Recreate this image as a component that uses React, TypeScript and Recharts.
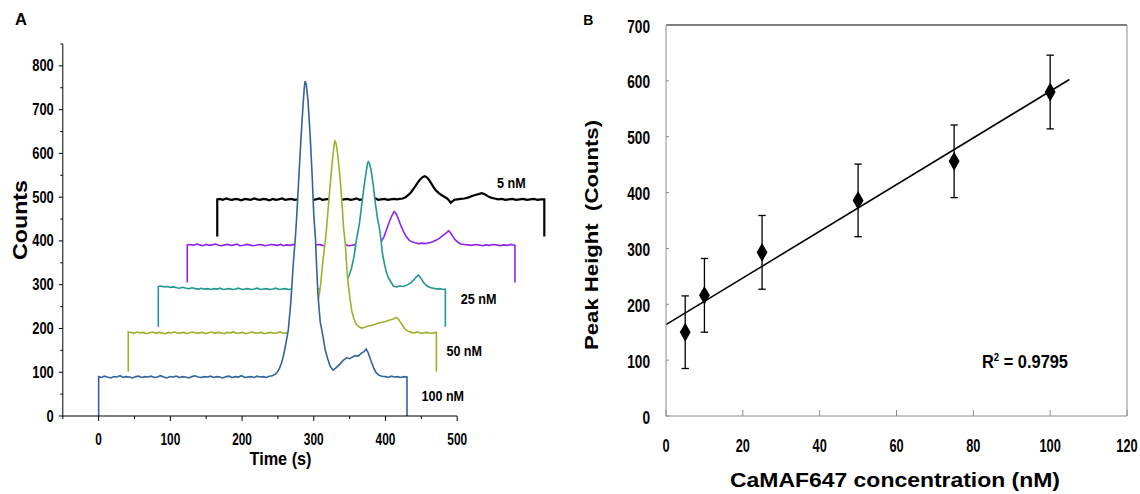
import React from 'react';
import {
  ComposedChart,
  ScatterChart,
  Area,
  Scatter,
  XAxis,
  YAxis,
  ZAxis,
  ReferenceLine,
  ErrorBar,
} from 'recharts';

const FONT = "'Liberation Sans', Arial, Helvetica, sans-serif";

// ---------------- Panel A: electropherograms (waterfall) ----------------
// [time (s), counts] as drawn on the plot
const TRACE_100NM: [number, number][] = [
  [0, 0], [0, 90], [4, 88], [8, 91], [12, 89], [17, 87], [21, 90], [25, 89], [30, 92], [34, 88], [38, 90],
  [43, 89], [47, 87], [52, 90], [56, 91], [60, 88], [65, 90], [69, 89], [73, 91], [78, 88], [82, 89],
  [86, 92], [91, 89], [95, 87], [100, 90], [104, 89], [108, 91], [113, 88], [117, 90], [121, 89], [126, 87],
  [130, 90], [134, 92], [139, 89], [143, 88], [147, 90], [152, 89], [156, 91], [160, 88], [165, 90],
  [169, 89], [173, 87], [178, 90], [182, 91], [186, 88], [191, 90], [195, 89], [199, 92], [204, 88],
  [208, 89], [212, 90], [217, 88], [221, 91], [225, 89], [230, 90], [234, 88], [238, 91], [242, 92],
  [246, 95], [249, 100], [252, 108], [255, 121], [258, 140], [261, 165], [264.5, 197], [268, 260],
  [271.5, 350], [274, 400], [276, 450], [279, 540], [282, 630], [285, 710], [287, 755], [288, 765],
  [289.5, 758], [292, 720], [295, 640], [298, 540], [300, 460], [302.5, 402], [304, 340], [306, 273],
  [309, 215], [313, 181], [316, 150], [320, 128], [323, 113], [327, 105], [331, 110], [336, 118],
  [341, 127], [346, 133], [350, 131], [354, 135], [358, 138], [362, 137], [366, 143], [370, 147],
  [373, 153], [376, 144], [380, 125], [384, 108], [387, 99], [391, 93], [395, 91], [400, 90], [404, 88],
  [408, 91], [413, 89], [417, 90], [421, 88], [426, 90], [430, 89], [430, 0],
];

const TRACE_50NM: [number, number][] = [
  [41.3, 101], [41.3, 192], [45, 191], [49, 189], [54, 192], [58, 190], [62, 191], [67, 188], [71, 190],
  [75, 192], [80, 189], [84, 191], [88, 190], [93, 188], [97, 191], [101, 190], [106, 192], [110, 189],
  [114, 190], [119, 191], [123, 188], [127, 190], [132, 192], [136, 189], [140, 190], [145, 191],
  [149, 188], [153, 190], [158, 192], [162, 189], [166, 191], [171, 190], [175, 188], [179, 191],
  [184, 190], [188, 192], [192, 189], [197, 190], [201, 191], [205, 188], [210, 190], [214, 192],
  [218, 189], [223, 190], [227, 191], [231, 188], [236, 190], [240, 191], [244, 189], [249, 190],
  [253, 192], [257, 189], [262, 190], [266, 191], [270, 189], [275, 190], [279, 191], [284, 190],
  [289.5, 191], [293, 196], [296.5, 210], [299.5, 222], [302.5, 238], [306, 260], [309.5, 299],
  [313, 359], [315.5, 392], [317.5, 422], [320.5, 483], [323.5, 540], [326.5, 593], [328.5, 621],
  [329.5, 628], [331, 624], [333.5, 597], [336.5, 547], [339.5, 483], [341.5, 431], [344, 392],
  [345.5, 352], [347.5, 308], [350.5, 268], [353, 240], [356, 222], [359, 210], [363, 204], [367, 201],
  [371, 203], [375, 205], [380, 207], [385, 209], [390, 212], [395, 214], [400, 216], [405, 219],
  [410, 221], [413, 224], [416, 225], [419, 219], [423, 209], [427, 199], [431, 194], [436, 191],
  [440, 190], [445, 192], [449, 189], [454, 190], [458, 191], [463, 189], [467, 190], [471, 191], [471, 101],
];

const TRACE_25NM: [number, number][] = [
  [83.2, 204], [83.2, 296], [87, 297], [91, 295], [96, 296], [100, 294], [104, 295], [109, 293], [113, 292],
  [117, 294], [122, 292], [126, 291], [130, 293], [135, 291], [139, 290], [143, 292], [148, 290],
  [152, 291], [156, 289], [161, 291], [165, 290], [169, 292], [174, 289], [178, 290], [182, 291],
  [187, 289], [191, 290], [195, 292], [200, 289], [204, 290], [208, 291], [213, 289], [217, 290],
  [221, 292], [226, 289], [230, 290], [234, 291], [239, 289], [243, 290], [247, 292], [252, 289],
  [256, 290], [260, 291], [265, 289], [269, 290], [273, 292], [278, 289], [282, 290], [286, 291],
  [291, 289], [295, 290], [299, 292], [304, 289], [308, 290], [312, 291], [317, 289], [321, 290],
  [325, 292], [330, 290], [334, 291], [338, 292], [341, 296], [344, 303], [347, 313], [349.5, 322],
  [352.5, 337], [356, 363], [359.5, 402], [362, 424], [364, 444], [367, 485], [370, 523], [373, 558],
  [375, 577], [376, 581], [377.5, 578], [380, 561], [383, 527], [386, 485], [389, 450], [392, 424],
  [394, 398], [396, 369], [399, 344], [401, 330], [404, 316], [408, 305], [411, 297], [415, 295],
  [420, 297], [425, 296], [430, 299], [434, 303], [437, 307], [440, 312], [443, 318], [446, 322],
  [449, 316], [453, 305], [458, 297], [463, 293], [467, 292], [472, 290], [476, 291], [480, 289],
  [483.5, 290], [483.5, 204],
];

const TRACE_10NM: [number, number][] = [
  [123.6, 305], [123.6, 391], [128, 392], [132, 390], [137, 393], [141, 391], [145, 389], [150, 392],
  [154, 390], [158, 391], [163, 393], [167, 390], [171, 389], [176, 391], [180, 392], [184, 390],
  [189, 391], [193, 393], [197, 389], [202, 390], [206, 392], [210, 391], [215, 389], [219, 390],
  [223, 392], [228, 391], [232, 389], [236, 390], [241, 392], [245, 391], [249, 390], [254, 392],
  [258, 389], [262, 391], [267, 390], [271, 392], [275, 389], [280, 391], [284, 390], [288, 392],
  [293, 391], [297, 389], [301, 390], [306, 392], [310, 391], [314, 389], [319, 390], [323, 392],
  [327, 391], [332, 389], [336, 390], [340, 392], [345, 391], [349, 389], [353, 390], [358, 392],
  [362, 391], [366, 390], [371, 392], [375, 389], [379, 391], [384, 390], [388, 392], [392, 396],
  [395, 401], [398, 410], [401, 424], [405, 442], [409, 458], [412, 467], [415, 462], [418, 450],
  [421, 437], [425, 422], [429, 410], [433, 402], [437, 398], [441, 396], [446, 394], [451, 395],
  [456, 394], [461, 396], [466, 398], [471, 402], [475, 406], [479, 411], [483, 416], [486, 420],
  [488, 423], [491, 418], [494, 410], [497, 403], [501, 397], [505, 393], [510, 392], [515, 391],
  [520, 390], [525, 392], [530, 391], [535, 389], [540, 391], [545, 390], [550, 392], [555, 391],
  [560, 389], [565, 391], [570, 390], [575, 392], [580.6, 390], [580.6, 305],
];

const TRACE_5NM: [number, number][] = [
  [165.4, 410], [165.4, 495], [169, 496], [173, 494], [178, 497], [182, 495], [186, 494], [191, 496],
  [195, 495], [199, 493], [204, 496], [208, 495], [212, 494], [217, 497], [221, 495], [225, 494],
  [230, 496], [234, 495], [238, 493], [243, 496], [247, 494], [251, 495], [256, 497], [260, 494],
  [264, 495], [269, 496], [273, 494], [277, 495], [282, 497], [286, 494], [290, 495], [295, 496],
  [299, 494], [303, 495], [308, 497], [312, 494], [316, 495], [321, 496], [325, 494], [329, 495],
  [334, 497], [338, 494], [342, 495], [347, 496], [351, 494], [355, 495], [360, 497], [364, 494],
  [368, 495], [373, 496], [377, 494], [381, 495], [386, 497], [390, 494], [394, 495], [399, 496],
  [403, 494], [407, 495], [412, 496], [416, 495], [420, 496], [424, 497], [428, 500], [432, 505],
  [436, 512], [440, 521], [444, 531], [448, 540], [452, 546], [455, 548], [458, 545], [461, 539],
  [464, 531], [467, 523], [470, 516], [474, 510], [478, 505], [482, 501], [486, 497], [489, 492],
  [491, 487], [493, 490], [496, 494], [500, 495], [505, 496], [510, 497], [515, 499], [520, 502],
  [525, 505], [530, 507], [534, 509], [538, 507], [542, 503], [547, 499], [552, 497], [557, 495],
  [562, 496], [567, 494], [572, 495], [577, 496], [582, 494], [587, 495], [592, 496], [597, 494],
  [602, 495], [607, 496], [612, 494], [617, 495], [621.5, 495], [621.5, 410],
];

// back to front
const TRACE_NAMES = ['5 nM', '10 nM', '25 nM', '50 nM', '100 nM'];
const TRACE_COLORS = ['#000000', '#8f22f5', '#22968f', '#9db02e', '#33639b'];
const TRACE_BASES = [410, 305, 204, 101, 0]; // bottom of each drop line (counts)
const TRACE_POINTS = [TRACE_5NM, TRACE_10NM, TRACE_25NM, TRACE_50NM, TRACE_100NM];

const A_X_TICKS = [-50, 0, 50, 100, 150, 200, 250, 300, 350, 400, 450, 500];
const A_Y_TICKS = [0, 50, 100, 150, 200, 250, 300, 350, 400, 450, 500, 550, 600, 650, 700, 750, 800, 850];

// ---------------- Panel B: calibration ----------------
const CONC = [5, 10, 25, 50, 75, 100];
const PEAK = [150, 216, 293, 386, 456, 580];
const PEAK_ERR = [65, 66, 66, 65, 65, 66];
const FIT_INTERCEPT = 163.5;
const FIT_SLOPE = 4.18;
const FIT_END = 105;
const B_X_TICKS = [0, 20, 40, 60, 80, 100, 120];
const B_Y_TICKS = [0, 100, 200, 300, 400, 500, 600, 700];

const traceData = TRACE_POINTS.map((pts) => pts.map(([t, c]) => ({ t, c })));
const calData = CONC.map((x, i) => ({ x, y: PEAK[i], err: PEAK_ERR[i] }));

const XTickA = (props: any) => {
  const { x, y, payload } = props;
  const v = payload.value as number;
  const major = v % 100 === 0;
  return (
    <g>
      <line x1={x} x2={x} y1={y} y2={y + (major ? 5 : 3)} stroke="#000" strokeWidth={1} />
      {major && v >= 0 && (
        <text x={x} y={y + 29} textAnchor="middle" fontFamily={FONT} fontWeight="bold" fontSize={16}
          textLength={String(v).length * 6.6} lengthAdjust="spacingAndGlyphs" fill="#000">{v}</text>
      )}
    </g>
  );
};

const YTickA = (props: any) => {
  const { x, y, payload } = props;
  const v = payload.value as number;
  const major = v % 100 === 0;
  return (
    <g>
      <line x1={x} x2={x - (major ? 4 : 2.5)} y1={y} y2={y} stroke="#000" strokeWidth={1} />
      {major && (
        <text x={x - 9} y={y + 5.5} textAnchor="end" fontFamily={FONT} fontWeight="bold" fontSize={16}
          textLength={String(v).length * 7.2} lengthAdjust="spacingAndGlyphs" fill="#000">{v}</text>
      )}
    </g>
  );
};

const XTickB = (props: any) => {
  const { x, y, payload } = props;
  const v = payload.value as number;
  return (
    <g>
      <line x1={x} x2={x} y1={y} y2={y - 6} stroke="#8c8c8c" strokeWidth={1} />
      <text x={x} y={y + 36} textAnchor="middle" fontFamily={FONT} fontWeight="bold" fontSize={17.5}
        textLength={String(v).length * 7.1} lengthAdjust="spacingAndGlyphs" fill="#000">{v}</text>
    </g>
  );
};

const YTickB = (props: any) => {
  const { x, y, payload } = props;
  const v = payload.value as number;
  return (
    <g>
      <line x1={x} x2={x + 3} y1={y} y2={y} stroke="#8c8c8c" strokeWidth={1} />
      <text x={x - 16} y={y + 7.5} textAnchor="end" fontFamily={FONT} fontWeight="bold" fontSize={18}
        textLength={String(v).length * 7.6} lengthAdjust="spacingAndGlyphs" fill="#000">{v}</text>
    </g>
  );
};

const LABEL_POS = [
  { x: 497, y: 187.5, len: 28.7 },
  { x: 484.5, y: 232, len: 35.5 },
  { x: 460.7, y: 303.5, len: 35.7 },
  { x: 446.4, y: 356, len: 35.6 },
  { x: 421.5, y: 401, len: 42.5 },
];

const PanelA = () => (
  <ComposedChart width={560} height={494} margin={{ top: 44, right: 9.6, bottom: 48, left: 12.8 }}>
    <XAxis dataKey="t" type="number" domain={[-50, 630]} ticks={A_X_TICKS} interval={0}
      axisLine={false} tickLine={false} tickSize={0} tickMargin={0} height={30} tick={<XTickA />} />
    <YAxis type="number" domain={[0, 850]} ticks={A_Y_TICKS} interval={0} width={50}
      axisLine={{ stroke: '#000', strokeWidth: 1 }} tickLine={false} tickSize={0} tickMargin={0} tick={<YTickA />} />
    {traceData.map((d, i) => (
      <Area key={TRACE_NAMES[i]} data={d} dataKey="c" type="linear" baseValue={TRACE_BASES[i]}
        stroke={TRACE_COLORS[i]} strokeWidth={i === 0 ? 2.2 : 1.6} fill="#ffffff" fillOpacity={1}
        dot={false} activeDot={false} isAnimationActive={false} />
    ))}
    <ReferenceLine segment={[{ x: -50, y: 0 }, { x: 500, y: 0 }]} stroke="#000" strokeWidth={1} />
    <text x={15} y={25} fontFamily={FONT} fontWeight="bold" fontSize={16.5} fill="#000">A</text>
    <text transform="translate(26.5,220) rotate(-90)" textAnchor="middle" fontFamily={FONT} fontWeight="bold"
      fontSize={19.5} textLength={80} lengthAdjust="spacingAndGlyphs" fill="#000">Counts</text>
    <text x={280.5} y={465} textAnchor="middle" fontFamily={FONT} fontWeight="bold" fontSize={19}
      textLength={62} lengthAdjust="spacingAndGlyphs" fill="#000">Time (s)</text>
    {LABEL_POS.map((p, i) => (
      <text key={i} x={p.x} y={p.y} fontFamily={FONT} fontWeight="bold" fontSize={15}
        textLength={p.len} lengthAdjust="spacingAndGlyphs" fill="#000">{TRACE_NAMES[i]}</text>
    ))}
  </ComposedChart>
);

const PanelB = () => (
  <ScatterChart width={580} height={494} margin={{ top: 25, right: 13, bottom: 48, left: 46 }}>
    <XAxis dataKey="x" type="number" domain={[0, 120]} ticks={B_X_TICKS} interval={0} height={30}
      axisLine={{ stroke: '#8c8c8c', strokeWidth: 1 }} tickLine={false} tickSize={0} tickMargin={0} tick={<XTickB />} />
    <YAxis dataKey="y" type="number" domain={[0, 700]} ticks={B_Y_TICKS} interval={0} width={60}
      axisLine={{ stroke: '#8c8c8c', strokeWidth: 1 }} tickLine={false} tickSize={0} tickMargin={0} tick={<YTickB />} />
    <ZAxis range={[50, 50]} />
    <ReferenceLine y={700} stroke="#000" strokeWidth={1.2} />
    <ReferenceLine x={120} stroke="#8c8c8c" strokeWidth={1} />
    <ReferenceLine
      segment={[{ x: 0, y: FIT_INTERCEPT }, { x: FIT_END, y: FIT_INTERCEPT + FIT_SLOPE * FIT_END }]}
      stroke="#000" strokeWidth={1.6} />
    <Scatter data={calData} shape="diamond" fill="#000" stroke="#000" strokeWidth={2} isAnimationActive={false}>
      <ErrorBar dataKey="err" direction="y" width={3.7} stroke="#000" strokeWidth={1.3} />
    </Scatter>
    <text x={23.3} y={25} fontFamily={FONT} fontWeight="bold" fontSize={14} fill="#000">B</text>
    <text transform="translate(38,235) rotate(-90)" textAnchor="middle" fontFamily={FONT} fontWeight="bold"
      fontSize={18.5} textLength={230} lengthAdjust="spacingAndGlyphs" fill="#000">{'Peak Height \u00a0(Counts)'}</text>
    <text x={335} y={487} textAnchor="middle" fontFamily={FONT} fontWeight="bold" fontSize={20}
      textLength={330} lengthAdjust="spacingAndGlyphs" fill="#000">CaMAF647 concentration (nM)</text>
    <text x={422} y={368.3} fontFamily={FONT} fontWeight="bold" fontSize={19} fill="#000"
      textLength={86} lengthAdjust="spacingAndGlyphs">
      R<tspan dy={-7} fontSize={11}>2</tspan><tspan dy={7}> = 0.9795</tspan>
    </text>
  </ScatterChart>
);

export default function App() {
  return (
    <div style={{ position: 'absolute', left: 0, top: 0, width: 1140, height: 494, background: '#fff' }}>
      <div style={{ position: 'absolute', left: 0, top: 0 }}>
        <PanelA />
      </div>
      <div style={{ position: 'absolute', left: 560, top: 0 }}>
        <PanelB />
      </div>
    </div>
  );
}
